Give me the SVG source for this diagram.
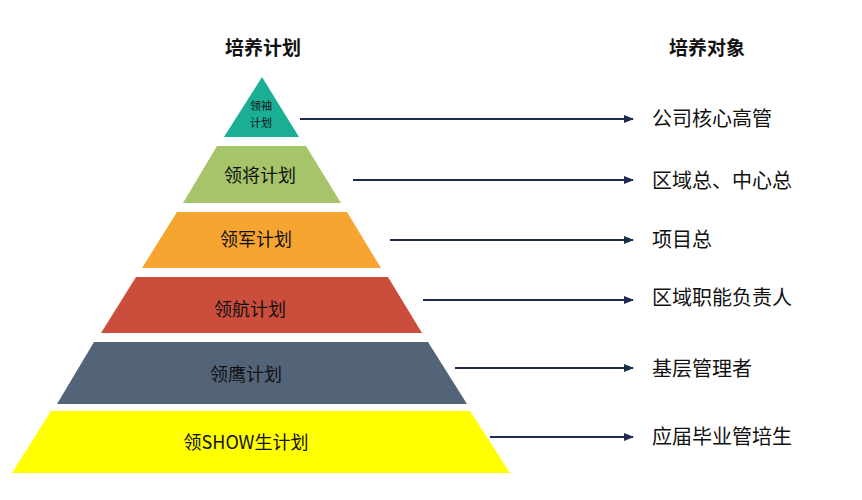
<svg xmlns="http://www.w3.org/2000/svg" width="862" height="500" viewBox="0 0 862 500">
<defs>
<marker id="ah" markerWidth="10" markerHeight="8" refX="9" refY="4" orient="auto" markerUnits="userSpaceOnUse"><path d="M0,0 L10,4 L0,8 Z" fill="#1f2a4f"/></marker>
<style>
text{font-family:"Microsoft YaHei","Noto Sans CJK SC",sans-serif;fill:#111}
.t{font-size:18px;text-anchor:middle}
.s{font-size:11px;text-anchor:middle}
.r{font-size:20px}
.h{font-size:19px;font-weight:bold;text-anchor:middle}
.c{stroke:#1f2a4f;stroke-width:2;fill:none;marker-end:url(#ah)}
</style>
</defs>
<rect width="862" height="500" fill="#fff"/>
<text class="h" x="263" y="55">培养计划</text>
<text class="h" x="707" y="55">培养对象</text>
<g id="n1"><polygon points="262,77 299,137 224,137" fill="#1aaf95"/><text class="s" x="261" y="110">领袖</text><text class="s" x="261" y="127">计划</text></g>
<g id="n2"><polygon points="217,146 306,146 341,203 183,203" fill="#a6c46a"/><text class="t" x="260" y="182">领将计划</text></g>
<g id="n3"><polygon points="177,212 347,212 381,268 142,268" fill="#f6a531"/><text class="t" x="256" y="246">领军计划</text></g>
<g id="n4"><polygon points="136,277 388,277 422,333 101,333" fill="#cb4e3d"/><text class="t" x="250" y="316">领航计划</text></g>
<g id="n5"><polygon points="94,342 428,342 467,404 57,404" fill="#536479"/><text class="t" x="246" y="381">领鹰计划</text></g>
<g id="n6"><polygon points="51,411 470,411 510,473 12,473" fill="#ffff00"/><text class="t" x="246" y="449">领SHOW生计划</text></g>
<g id="connectors">
<line class="c" x1="300" y1="119" x2="633" y2="119"/>
<line class="c" x1="353" y1="180" x2="633" y2="180"/>
<line class="c" x1="390" y1="240" x2="633" y2="240"/>
<line class="c" x1="423" y1="300" x2="633" y2="300"/>
<line class="c" x1="455" y1="368" x2="633" y2="368"/>
<line class="c" x1="490" y1="437" x2="633" y2="437"/>
</g>
<g id="labels">
<text class="r" x="652" y="126">公司核心高管</text>
<text class="r" x="652" y="188">区域总、中心总</text>
<text class="r" x="652" y="247">项目总</text>
<text class="r" x="652" y="305">区域职能负责人</text>
<text class="r" x="652" y="376">基层管理者</text>
<text class="r" x="652" y="444">应届毕业管培生</text>
</g>
</svg>
